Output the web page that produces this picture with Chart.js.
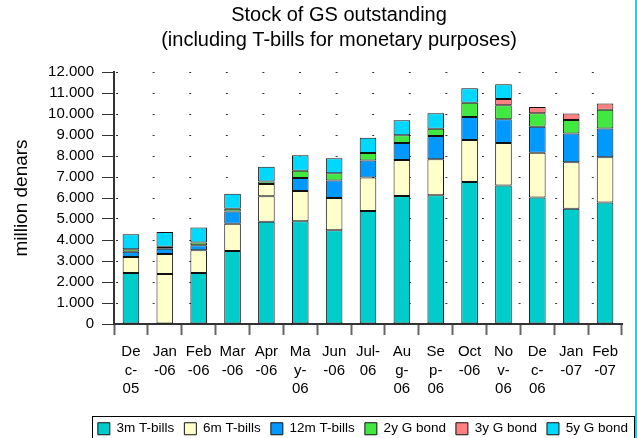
<!DOCTYPE html>
<html>
<head>
<meta charset="utf-8">
<script src="https://cdn.jsdelivr.net/npm/chart.js@4.4.1/dist/chart.umd.min.js"></script>
<style>
  body { margin: 0; background: #fff; }
  canvas { display: block; }
</style>
</head>
<body>
<canvas id="myChart" width="637" height="438"></canvas>
<script>
// meses (etiquetas cortadas como en el original)
const meses = [
  ["De", "c-", "05"], ["Jan", "-06"], ["Feb", "-06"], ["Mar", "-06"], ["Apr", "-06"],
  ["Ma", "y-", "06"], ["Jun", "-06"], ["Jul-", "06"], ["Au", "g-", "06"], ["Se", "p-", "06"],
  ["Oct", "-06"], ["No", "v-", "06"], ["De", "c-", "06"], ["Jan", "-07"], ["Feb", "-07"]
];

// millones de denares
const tbill3m = [2430, 2380, 2430, 3480, 4870, 4890, 4460, 5380, 6100, 6130, 6760, 6600, 6020, 5490, 5780];
const tbill6m = [760, 950, 1080, 1290, 1210, 1440, 1540, 1600, 1710, 1710, 2000, 2020, 2130, 2210, 2160];
const tbill12m = [250, 250, 240, 590, 590, 620, 830, 810, 810, 1110, 1100, 1130, 1240, 1370, 1370];
const bond2y = [120, 100, 130, 130, 110, 350, 350, 350, 370, 350, 670, 670, 650, 650, 890];
const bond3y = [null, null, null, null, null, null, null, null, null, null, null, 290, 290, 300, 300];
const bond5y = [710, 700, 710, 710, 710, 730, 710, 730, 710, 730, 700, 710, null, null, null];

const yMax = 12000;
const yStep = 1000;

const fuente = "'Liberation Sans', Arial, sans-serif";
const crema = "#FFFFCC";

function conPunto(v) {
  const s = String(v);
  return s.length > 3 ? s.slice(0, -3) + "." + s.slice(-3) : s;
}

function serie(label, data, color) {
  return {
    label: label,
    data: data,
    backgroundColor: color,
    borderColor: "#111",
    borderWidth: 1,
    borderSkipped: false,
    barPercentage: 0.49,
    categoryPercentage: 1,
  };
}

// en el original, dos tramos salen en color crema
const colores3m = tbill3m.map((v, i) => (i === 1 ? crema : "#00CCCC"));
const colores12m = tbill12m.map((v, i) => (i === 4 ? crema : "#0099FF"));

const marco = {
  id: "marco",
  afterLayout(chart) {
    const t = chart.titleBlock;
    t.left = 41;
    t.right = 637;
    const l = chart.legend;
    l.right = 638;
    l.top += 7.5;
    l.bottom += 7.5;
  },
  afterDraw(chart) {
    const ctx = chart.ctx;
    ctx.save();
    ctx.strokeStyle = "#000";
    ctx.lineWidth = 1;
    ctx.strokeRect(92.5, 416.5, 542, 30);
    ctx.fillStyle = "#00DDEE";
    ctx.fillRect(635, 0, 2, chart.height);
    ctx.restore();
  },
};

Chart.defaults.font.family = fuente;
Chart.defaults.color = "#000";

new Chart(document.getElementById("myChart"), {
  type: "bar",
  data: {
    labels: meses,
    datasets: [
      serie("3m T-bills", tbill3m, colores3m),
      serie("6m T-bills", tbill6m, crema),
      serie("12m T-bills", tbill12m, colores12m),
      serie("2y G bond", bond2y, "#40E840"),
      serie("3y G bond", bond3y, "#FF8080"),
      serie("5y G bond", bond5y, "#00D9FF"),
    ],
  },
  options: {
    responsive: false,
    animation: false,
    devicePixelRatio: 1,
    layout: { padding: { left: 0, right: 15, top: 0, bottom: 0 } },
    plugins: {
      title: {
        display: true,
        text: ["Stock of GS outstanding", "(including T-bills for monetary purposes)"],
        font: { size: 20, weight: "normal", lineHeight: 1.25 },
        color: "#000",
        padding: { top: 2.5, bottom: 19.5 },
      },
      legend: {
        position: "bottom",
        align: "end",
        labels: {
          // el primer dataset lleva colores por barra; el cuadro usa el color base
          generateLabels(chart) {
            const base = ["#00CCCC", crema, "#0099FF", "#40E840", "#FF8080", "#00D9FF"];
            return chart.data.datasets.map((ds, i) => ({
              text: ds.label,
              fillStyle: base[i],
              strokeStyle: "#111",
              lineWidth: 1,
              datasetIndex: i,
            }));
          },
          boxWidth: 12,
          boxHeight: 12,
          padding: 10,
          font: { size: 13.5 },
          color: "#000",
        },
      },
      tooltip: { enabled: false },
    },
    scales: {
      x: {
        stacked: true,
        afterFit(scale) {
          scale.height = 80.5;
        },
        border: { color: "#333", width: 2 },
        grid: {
          drawOnChartArea: false,
          tickLength: 11,
          tickColor: "#666",
          tickWidth: 2,
        },
        ticks: {
          autoSkip: false,
          maxRotation: 0,
          padding: 8,
          font: { size: 15, lineHeight: 1.22 },
          color: "#000",
        },
      },
      y: {
        stacked: true,
        min: 0,
        max: yMax,
        afterFit(scale) {
          scale.width = 114;
        },
        // en v4 el punteado de la grilla va en border.dash
        border: { color: "#333", width: 2, dash: [2, 34.6], dashOffset: -1 },
        grid: {
          color: "#333",
          lineWidth: 1,
          tickLength: 12,
          tickColor: "#333",
          tickWidth: 1,
          tickBorderDash: [],
        },
        ticks: {
          stepSize: yStep,
          padding: 8,
          font: { size: 15 },
          color: "#000",
          callback: (v) => conPunto(v),
        },
        title: {
          display: true,
          text: "million denars",
          font: { size: 19 },
          color: "#000",
          padding: { top: 10, bottom: 0 },
        },
      },
    },
  },
  plugins: [marco],
});
</script>
</body>
</html>
